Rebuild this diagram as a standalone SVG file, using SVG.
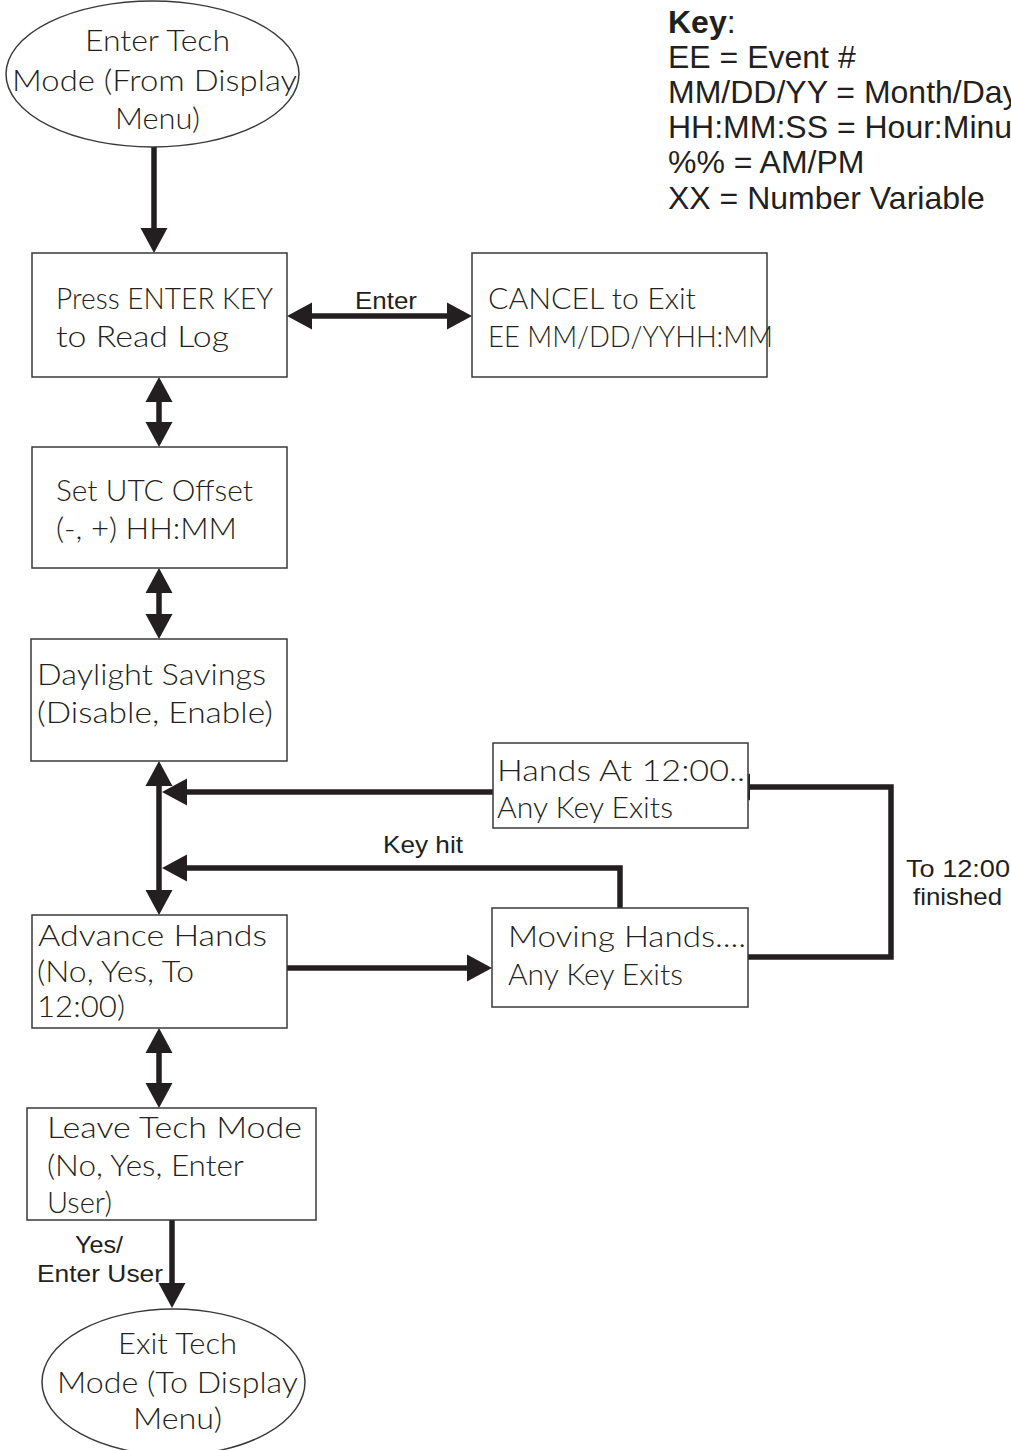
<svg xmlns="http://www.w3.org/2000/svg" width="1011" height="1450" viewBox="0 0 1011 1450">
<defs>
<style>
.box{fill:#fff;stroke:#3a3a3a;stroke-width:1.5}
.t{font-family:"Lato","DejaVu Sans",sans-serif;font-weight:300;font-size:28.5px;fill:#231f20}
.l{font-family:"Liberation Sans",Arial,sans-serif;font-size:24px;fill:#231f20}
.k{font-family:"Liberation Sans",Arial,sans-serif;font-size:32px;fill:#231f20}
.c{fill:none;stroke:#231f20;stroke-width:5.5}
</style>
<marker id="ah" markerUnits="userSpaceOnUse" markerWidth="26" markerHeight="28" viewBox="0 0 26 28" refX="15" refY="14" orient="auto-start-reverse">
<path d="M0,0.5 L25,14 L0,27.5 z" fill="#231f20"/>
</marker>
</defs>
<rect width="1011" height="1450" fill="#fff"/>

<g id="key">
<text class="k" x="668" y="33"><tspan font-weight="bold">Key</tspan>:</text>
<text class="k" x="668" y="68">EE = Event #</text>
<text class="k" x="668" y="103">MM/DD/YY = Month/Day</text>
<text class="k" x="668" y="138">HH:MM:SS = Hour:Minu</text>
<text class="k" x="668" y="173">%% = AM/PM</text>
<text class="k" x="668" y="209">XX = Number Variable</text>
</g>

<g id="connectors">
<path class="c" d="M154,147 V243" marker-end="url(#ah)"/>
<path class="c" d="M297,316 H462" marker-start="url(#ah)" marker-end="url(#ah)"/>
<path class="c" d="M159,387 V437" marker-start="url(#ah)" marker-end="url(#ah)"/>
<path class="c" d="M159,578 V629" marker-start="url(#ah)" marker-end="url(#ah)"/>
<path class="c" d="M159,771 V905" marker-start="url(#ah)" marker-end="url(#ah)"/>
<path class="c" d="M493,792 H172" marker-end="url(#ah)"/>
<path class="c" d="M620,908 V868 H172" marker-end="url(#ah)"/>
<path class="c" d="M287,968 H482" marker-end="url(#ah)"/>
<path class="c" d="M748,957 H891 V787 H735" marker-end="url(#ah)"/>
<path class="c" d="M159,1038 V1098" marker-start="url(#ah)" marker-end="url(#ah)"/>
<path class="c" d="M172,1220 V1298" marker-end="url(#ah)"/>
<text class="l" x="355" y="309" textLength="62" lengthAdjust="spacingAndGlyphs">Enter</text>
<text class="l" x="383" y="853" textLength="80" lengthAdjust="spacingAndGlyphs">Key hit</text>
<text class="l" x="906" y="877" textLength="104" lengthAdjust="spacingAndGlyphs">To 12:00</text>
<text class="l" x="913" y="905" textLength="89" lengthAdjust="spacingAndGlyphs">finished</text>
<text class="l" x="75" y="1253" textLength="48" lengthAdjust="spacingAndGlyphs">Yes/</text>
<text class="l" x="37" y="1282" textLength="126" lengthAdjust="spacingAndGlyphs">Enter User</text>
</g>

<g id="enter-tech">
<ellipse cx="152.5" cy="74" rx="146.5" ry="73" fill="#fff" stroke="#3a3a3a" stroke-width="1.5"/>
<text class="t" x="85" y="51" textLength="145" lengthAdjust="spacingAndGlyphs">Enter Tech</text>
<text class="t" x="12" y="91" textLength="285" lengthAdjust="spacingAndGlyphs">Mode (From Display</text>
<text class="t" x="115" y="129" textLength="85" lengthAdjust="spacingAndGlyphs">Menu)</text>
</g>

<g id="read-log">
<rect class="box" x="32" y="253" width="255" height="124"/>
<text class="t" x="56" y="309" textLength="217" lengthAdjust="spacingAndGlyphs">Press ENTER KEY</text>
<text class="t" x="56" y="347" textLength="173" lengthAdjust="spacingAndGlyphs">to Read Log</text>
</g>

<g id="cancel">
<rect class="box" x="472" y="253" width="295" height="124"/>
<text class="t" x="488" y="309" textLength="208" lengthAdjust="spacingAndGlyphs">CANCEL to Exit</text>
<text class="t" x="488" y="347" textLength="285" lengthAdjust="spacingAndGlyphs">EE MM/DD/YYHH:MM</text>
</g>

<g id="utc">
<rect class="box" x="32" y="447" width="255" height="121"/>
<text class="t" x="56" y="501" textLength="197" lengthAdjust="spacingAndGlyphs">Set UTC Offset</text>
<text class="t" x="56" y="539" textLength="181" lengthAdjust="spacingAndGlyphs">(-, +) HH:MM</text>
</g>

<g id="daylight">
<rect class="box" x="31" y="639" width="256" height="122"/>
<text class="t" x="37" y="685" textLength="229" lengthAdjust="spacingAndGlyphs">Daylight Savings</text>
<text class="t" x="37" y="723" textLength="236" lengthAdjust="spacingAndGlyphs">(Disable, Enable)</text>
</g>

<g id="hands-at-12">
<rect class="box" x="493" y="743" width="255" height="85"/>
<text class="t" x="497" y="781" textLength="248" lengthAdjust="spacingAndGlyphs">Hands At 12:00..</text>
<text class="t" x="497" y="818" textLength="176" lengthAdjust="spacingAndGlyphs">Any Key Exits</text>
</g>

<g id="advance">
<rect class="box" x="32" y="915" width="255" height="113"/>
<text class="t" x="38" y="946" textLength="229" lengthAdjust="spacingAndGlyphs">Advance Hands</text>
<text class="t" x="37" y="982" textLength="157" lengthAdjust="spacingAndGlyphs">(No, Yes, To</text>
<text class="t" x="37" y="1017" textLength="88" lengthAdjust="spacingAndGlyphs">12:00)</text>
</g>

<g id="moving">
<rect class="box" x="492" y="908" width="256" height="99"/>
<text class="t" x="508" y="947" textLength="238" lengthAdjust="spacingAndGlyphs">Moving Hands....</text>
<text class="t" x="508" y="985" textLength="175" lengthAdjust="spacingAndGlyphs">Any Key Exits</text>
</g>

<g id="leave">
<rect class="box" x="27" y="1108" width="289" height="112"/>
<text class="t" x="47" y="1138" textLength="255" lengthAdjust="spacingAndGlyphs">Leave Tech Mode</text>
<text class="t" x="47" y="1176" textLength="197" lengthAdjust="spacingAndGlyphs">(No, Yes, Enter</text>
<text class="t" x="47" y="1213" textLength="65" lengthAdjust="spacingAndGlyphs">User)</text>
</g>

<g id="exit-tech">
<ellipse cx="173.5" cy="1382" rx="131.5" ry="73" fill="#fff" stroke="#3a3a3a" stroke-width="1.5"/>
<text class="t" x="118" y="1354" textLength="119" lengthAdjust="spacingAndGlyphs">Exit Tech</text>
<text class="t" x="57" y="1393" textLength="241" lengthAdjust="spacingAndGlyphs">Mode (To Display</text>
<text class="t" x="133" y="1429" textLength="89" lengthAdjust="spacingAndGlyphs">Menu)</text>
</g>
</svg>
